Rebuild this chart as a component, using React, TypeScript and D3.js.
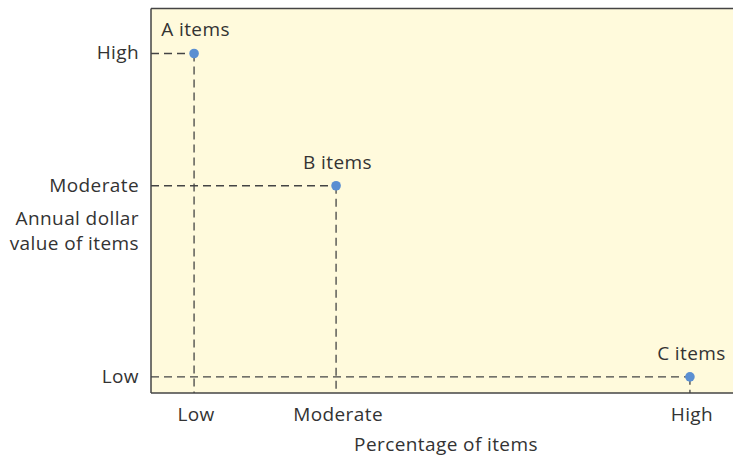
import React from "react";
import * as d3 from "d3";

const categories = ["A items", "B items", "C items"];
const pctItems = [7.4, 31.8, 92.6];
const dollarValue = [88.3, 53.9, 4.2];
const xTickLabels = ["Low", "Moderate", "High"];
const yTickLabels = ["High", "Moderate", "Low"];

const W = 733;
const H = 458;
const FONT = "'Open Sans', 'Liberation Sans', sans-serif";
const TXT = "#333";
const FS = 19;
const LS = 0.4;

export default function App() {
  const left = 151;
  const top = 8.5;
  const bottom = 393;
  const x = d3.scaleLinear().domain([0, 100]).range([left, 733]);
  const y = d3.scaleLinear().domain([0, 100]).range([bottom, top]);

  const txt = { fontFamily: FONT, fontSize: FS, fill: TXT, letterSpacing: LS } as const;

  return (
    <svg width={W} height={H} style={{ position: "absolute", left: 0, top: 0 }}>
      <rect x={left} y={top} width={W - left + 2} height={bottom - top} fill="#FFFADC" />
      <line x1={left} x2={W + 2} y1={top} y2={top} stroke="#444" strokeWidth={1.5} />
      <line x1={left} x2={W + 2} y1={bottom} y2={bottom} stroke="#444" strokeWidth={1.5} />
      <line x1={left} x2={left} y1={top} y2={bottom} stroke="#444" strokeWidth={1.5} />
      {categories.map((c, i) => {
        const px = x(pctItems[i]);
        const py = y(dollarValue[i]);
        return (
          <g key={c}>
            <line x1={left} x2={px} y1={py} y2={py} stroke="#444" strokeWidth={1.3} strokeDasharray="8,5" />
            <line x1={px} x2={px} y1={py} y2={bottom} stroke="#444" strokeWidth={1.3} strokeDasharray="8,5" />
            <circle cx={px} cy={py} r={4.8} fill="#5B8FD2" />
            <text x={px + 1.5} y={py - 17} textAnchor="middle" {...txt}>{c}</text>
            <text x={px + 2} y={421} textAnchor="middle" {...txt}>{xTickLabels[i]}</text>
            <text x={139} y={py + 6} textAnchor="end" {...txt}>{yTickLabels[i]}</text>
          </g>
        );
      })}
      <text x={139} y={225} textAnchor="end" {...txt}>Annual dollar</text>
      <text x={139} y={250} textAnchor="end" {...txt}>value of items</text>
      <text x={446} y={451} textAnchor="middle" {...txt}>Percentage of items</text>
    </svg>
  );
}
